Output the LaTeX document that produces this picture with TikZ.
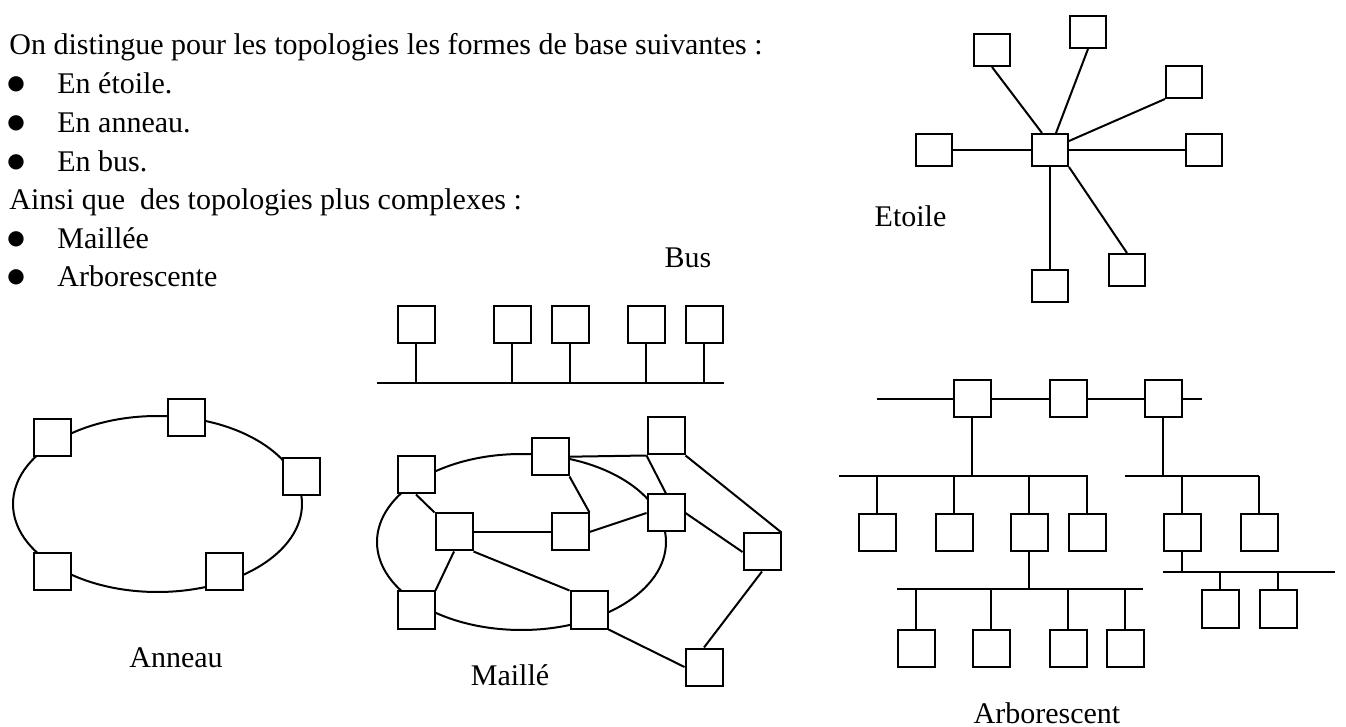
\documentclass[tikz,border=0pt]{standalone}
\usepackage{fontspec}
\setmainfont{Liberation Serif}
\newfontfamily\dotfont{DejaVu Sans}

\tikzset{
  box/.style={draw, fill=white, line width=1pt, inner sep=0pt,
    minimum width=18.5pt, minimum height=18.5pt},
  starbox/.style={box, minimum width=18pt, minimum height=16pt},
  txt/.style={font=\fontsize{15}{18}\selectfont, inner sep=0pt, anchor=base west},
  lbl/.style={font=\fontsize{15}{18}\selectfont, inner sep=0pt, anchor=base},
  bul/.style={font=\dotfont\fontsize{10}{12}\selectfont, inner sep=0pt, anchor=base},
  link/.style={line width=1pt},
}

\begin{document}
\begin{tikzpicture}[x=0.5pt, y=-0.5pt]

    \useasboundingbox (0,0) rectangle (1346,727);

    % text at the top left
    \node[txt] (intro) at (9,55) {On distingue pour les topologies les formes de base suivantes :};
    \node[bul] (p1) at (16,90) {●};    \node[txt] (i1) at (57,94) {En étoile.};
    \node[bul] (p2) at (16,129) {●};   \node[txt] (i2) at (57,133) {En anneau.};
    \node[bul] (p3) at (16,167.5) {●}; \node[txt] (i3) at (57,171.5) {En bus.};
    \node[txt] (more) at (9,210) {Ainsi que~ des topologies plus complexes :};
    \node[bul] (p4) at (16,244.5) {●}; \node[txt] (i4) at (57,248.5) {Maillée};
    \node[bul] (p5) at (16,283) {●};   \node[txt] (i5) at (57,287) {Arborescente};

    % etoile
    \node[starbox] (c) at (1050,150) {};
    \node[starbox] (s1) at (992,50) {};
    \node[starbox] (s2) at (1088,32) {};
    \node[starbox] (s3) at (1184,82) {};
    \node[starbox] (s4) at (934,150) {};
    \node[starbox] (s5) at (1204,150) {};
    \node[starbox] (s6) at (1050,286) {};
    \node[starbox] (s7) at (1127,270) {};
    \draw[link] (s1.south) -- ([xshift=-4pt]c.north);
    \draw[link] (s2.south) -- ([xshift=3pt]c.north);
    \draw[link] (s3.south west) -- ([yshift=4.5pt]c.east);
    \draw[link] (s4) -- (c);
    \draw[link] (c) -- (s5);
    \draw[link] (c) -- (s6);
    \draw[link] (c.south east) -- (s7.north);
    \node[lbl] (etoile) at (910.5,227) {Etoile};

    % bus
    \coordinate (busL) at (377,383);
    \coordinate (busR) at (724,383);
    \draw[link] (busL) -- (busR);
    \foreach \i/\x in {1/416, 2/512, 3/570, 4/646, 5/704}
    {
      \node[box] (b\i) at (\x,325) {};
      \draw[link] (b\i) -- (b\i |- busL);
    }
    \node[lbl] (bus) at (688,268) {Bus};

    % anneau
    \draw[link] (157.5,504) ellipse [x radius=72.25pt, y radius=44pt];
    \node[box] (a1) at (52,438) {};
    \node[box] (a2) at (186,418) {};
    \node[box] (a3) at (301,477) {};
    \node[box] (a4) at (52,572) {};
    \node[box] (a5) at (224,572) {};
    \node[lbl] (anneau) at (176,668) {Anneau};

    % maille
    \draw[link] (521.5,542) ellipse [x radius=72.25pt, y radius=44pt];
    \node[box] (m1) at (416,475) {};
    \node[box] (m2) at (550,457) {};
    \node[box] (m3) at (666,436) {};
    \node[box] (m4) at (454,532) {};
    \node[box] (m5) at (570,532) {};
    \node[box] (m6) at (666,513) {};
    \node[box] (m7) at (762,552) {};
    \node[box] (m8) at (416,610) {};
    \node[box] (m9) at (589,610) {};
    \node[box] (m10) at (704,667) {};
    \draw[link] (m2) -- (m3.south west);
    \draw[link] (m3.south west) -- (m6.north);
    \draw[link] (m3.south east) -- (m7.north east);
    \draw[link] (m6.east) -- (m7.west);
    \draw[link] (m7.south) -- (m10.north);
    \draw[link] (m9.south east) -- (m10.west);
    \draw[link] (m5.east) -- (m6.west);
    \draw[link] (m2.south east) -- (m5.north east);
    \draw[link] (m4) -- (m5);
    \draw[link] (m1.south) -- (m4.north west);
    \draw[link] (m4.south) -- (m8.north east);
    \draw[link] (m4.south east) -- (m9.north west);
    \node[lbl] (maille) at (510,685) {Maillé};

    % arborescent
    \coordinate (topL) at (877,399);
    \coordinate (topR) at (1202,399);
    \node[box] (t1) at (972,399) {};
    \node[box] (t2) at (1068,399) {};
    \node[box] (t3) at (1163,399) {};
    \draw[link] (topL) -- (t1) -- (t2) -- (t3) -- (topR);
    % first level
    \coordinate (lvA) at (839,476);
    \coordinate (lvB) at (1125,476);
    \draw[link] (lvA) -- (1088,476);
    \draw[link] (lvB) -- (1259,476);
    \draw[link] (t1) -- (t1 |- lvA);
    \draw[link] (t3) -- (t3 |- lvB);
    \foreach \i/\x in {1/877, 2/954, 3/1029, 4/1087}
    {
      \node[box] (l\i) at (\x,533) {};
      \draw[link] (l\i) -- (l\i |- lvA);
    }
    \foreach \i/\x in {1/1182, 2/1259}
    {
      \node[box] (r\i) at (\x,533) {};
      \draw[link] (r\i) -- (r\i |- lvB);
    }
    % second level
    \coordinate (lvC) at (897,589);
    \coordinate (lvD) at (1163,572);
    \draw[link] (lvC) -- (1143,589);
    \draw[link] (lvD) -- (1335,572);
    \draw[link] (l3) -- (l3 |- lvC);
    \draw[link] (r1) -- (r1 |- lvD);
    \foreach \i/\x in {1/916, 2/991, 3/1068, 4/1125}
    {
      \node[box] (d\i) at (\x,648) {};
      \draw[link] (d\i) -- (d\i |- lvC);
    }
    \foreach \i/\x in {1/1220, 2/1278}
    {
      \node[box] (e\i) at (\x,609) {};
      \draw[link] (e\i) -- (e\i |- lvD);
    }
    \node[lbl] (arbo) at (1047,723) {Arborescent};

  \end{tikzpicture}
\end{document}
